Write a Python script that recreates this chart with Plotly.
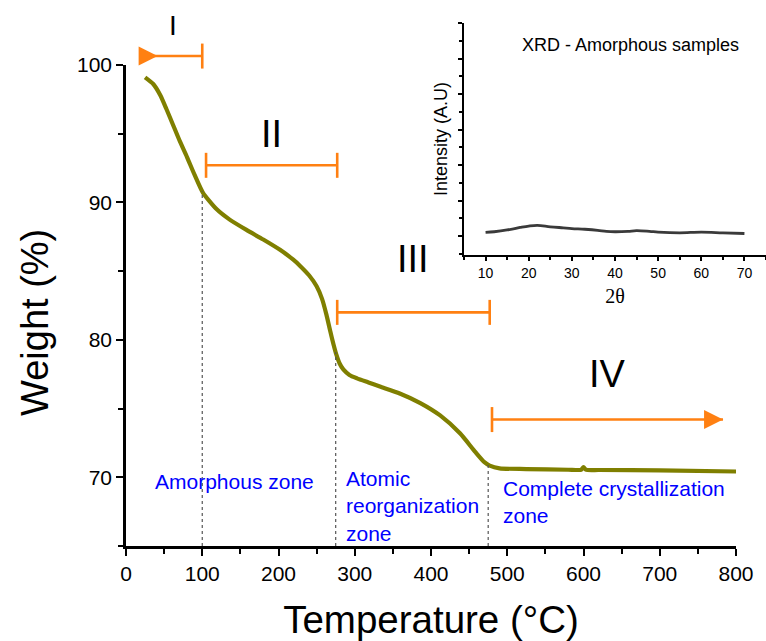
import numpy as np
import plotly.graph_objects as go

FIG_W, FIG_H = 766, 641
FONT = "Liberation Sans, Arial, sans-serif"

# ---------------- data ----------------
# TGA curve (Temperature in °C, Weight in %)
temperature = [25, 36, 45, 53, 62, 71, 80, 90, 101, 119, 136, 158, 180, 202, 219,
               228, 240, 250, 257, 263, 268, 272, 276, 280, 285, 293, 303, 318, 333,
               359, 386, 412, 438, 458, 470, 477, 490, 525, 580, 597, 600, 603, 620,
               700, 800]
weight = [99.1, 98.6, 97.8, 96.8, 95.6, 94.4, 93.3, 92.0, 90.7, 89.5, 88.75,
          88.0, 87.3, 86.55, 85.85, 85.4, 84.7, 83.9, 83.0, 81.8, 80.6, 79.7, 78.9,
          78.3, 77.85, 77.45, 77.2, 76.9, 76.6, 76.1, 75.4, 74.5, 73.2, 71.85, 71.1,
          70.85, 70.65, 70.6, 70.55, 70.55, 70.75, 70.55, 70.53, 70.5, 70.42]

# zone boundaries (dashed lines)
zone_bounds = [100, 275, 475]

# stage range bars
stage_names = ["I", "II", "III", "IV"]
stage_start = [27, 105, 277, 480]
stage_end = [100, 277, 477, 783]
stage_level = [100.65, 92.7, 82.0, 74.2]
stage_left_cap = [False, True, True, True]
stage_right_cap = [True, True, True, False]
stage_label_x = [61, 191, 377, 632]
stage_label_y = [102.9, 95.0, 85.9, 77.5]
stage_label_size = [28, 38, 38, 38]
stage_I_arrow_tip = 41.5  # triangle on stage I start

# zone descriptions
zone_texts = ["Amorphous zone", "Atomic<br>reorganization<br>zone",
              "Complete crystallization<br>zone"]
zone_text_x = [35, 286, 492]
zone_text_y = [69.67, 67.93, 68.18]

# inset XRD pattern
xrd_2theta = [10, 12, 15, 18, 20, 22, 25, 28, 30, 33, 36, 38, 40, 43, 45, 48, 50,
              55, 60, 65, 70]
xrd_intensity = [0.10, 0.12, 0.17, 0.24, 0.28, 0.30, 0.26, 0.23, 0.21, 0.19, 0.16,
                 0.13, 0.12, 0.13, 0.15, 0.13, 0.11, 0.09, 0.11, 0.09, 0.07]

# ---------------- layout geometry (pixels) ----------------
MAIN_L, MAIN_R, MAIN_T, MAIN_B = 126, 736, 65, 546
INS_L, INS_R, INS_T, INS_B = 464, 766, 23, 255
Y_MIN, Y_MAX = 65, 100


def xdom(a, b):
    return [a / FIG_W, b / FIG_W]


def ydom(top, bottom):
    return [(FIG_H - bottom) / FIG_H, (FIG_H - top) / FIG_H]


main_ydom = ydom(MAIN_T, MAIN_B)
px_per_unit = (MAIN_B - MAIN_T) / (Y_MAX - Y_MIN)
y3_top = Y_MIN + MAIN_B / px_per_unit
cap_half = 12.5 / px_per_unit

ORANGE = "#ff8012"
OLIVE = "#7f7f00"

fig = go.Figure()

# main TGA curve
fig.add_trace(go.Scatter(x=temperature, y=weight, mode="lines",
                         line=dict(color=OLIVE, width=4.2, shape="spline", smoothing=0.6),
                         xaxis="x", yaxis="y", showlegend=False, hoverinfo="skip"))

# dashed zone boundaries
dx, dy = [], []
for b in zone_bounds:
    dx += [b, b, None]
    dy += [Y_MIN, float(np.interp(b, temperature, weight)), None]
fig.add_trace(go.Scatter(x=dx, y=dy, mode="lines",
                         line=dict(color="#555555", width=1.2, dash="3px,3px"),
                         xaxis="x", yaxis="y", showlegend=False, hoverinfo="skip"))

# stage bars (on taller overlay axis so they can sit above the plot top)
bx, by = [], []
for s, e, lv, lc, rc in zip(stage_start, stage_end, stage_level,
                            stage_left_cap, stage_right_cap):
    bx += [s, e, None]
    by += [lv, lv, None]
    if lc:
        bx += [s, s, None]
        by += [lv - cap_half, lv + cap_half, None]
    if rc:
        bx += [e, e, None]
        by += [lv - cap_half, lv + cap_half, None]
fig.add_trace(go.Scatter(x=bx, y=by, mode="lines",
                         line=dict(color=ORANGE, width=2.6),
                         xaxis="x", yaxis="y3", showlegend=False, hoverinfo="skip"))
fig.add_trace(go.Scatter(x=[stage_I_arrow_tip, stage_end[3]],
                         y=[stage_level[0], stage_level[3]], mode="markers",
                         marker=dict(symbol="arrow-right", size=19, color=ORANGE,
                                     line=dict(width=0)),
                         xaxis="x", yaxis="y3", showlegend=False, hoverinfo="skip",
                         cliponaxis=False))

# inset XRD
fig.add_trace(go.Scatter(x=xrd_2theta, y=xrd_intensity, mode="lines",
                         line=dict(color="#3a3a3a", width=2.8, shape="spline"),
                         xaxis="x2", yaxis="y2", showlegend=False, hoverinfo="skip"))

annotations = []
for name, lx, ly, fs in zip(stage_names, stage_label_x, stage_label_y, stage_label_size):
    annotations.append(dict(text=name, x=lx, y=ly, xref="x", yref="y3", showarrow=False,
                            font=dict(family=FONT, size=fs, color="black")))
for t, tx, ty in zip(zone_texts, zone_text_x, zone_text_y):
    annotations.append(dict(text=t, x=tx, y=ty, xref="x", yref="y", showarrow=False,
                            xanchor="left", yanchor="middle", align="left",
                            font=dict(family=FONT, size=21, color="#0000ff")))
annotations.append(dict(text="XRD - Amorphous samples", x=43.7, y=5.37, xref="x2",
                        yref="y2", showarrow=False,
                        font=dict(family=FONT, size=18, color="black")))
# main y-axis title (placed slightly below the axis centre, as in the original)
annotations.append(dict(text="Weight (%)", x=35 / FIG_W, y=(FIG_H - 323) / FIG_H,
                        xref="paper", yref="paper", showarrow=False, textangle=-90,
                        xanchor="center", yanchor="middle",
                        font=dict(family=FONT, size=38, color="black")))

axis_common = dict(showline=True, linecolor="black", showgrid=False, zeroline=False,
                   ticks="outside", tickcolor="black", mirror=False, automargin=False)

fig.update_layout(
    template="none",
    width=FIG_W, height=FIG_H,
    margin=dict(l=0, r=0, t=0, b=0, autoexpand=False),
    paper_bgcolor="white", plot_bgcolor="rgba(0,0,0,0)",
    font=dict(family=FONT, color="black"),
    showlegend=False,
    annotations=annotations,
    xaxis=dict(axis_common, domain=xdom(MAIN_L, MAIN_R), range=[0, 800], anchor="y",
               linewidth=2.5, tickwidth=2, ticklen=7, tick0=0, dtick=100,
               minor=dict(ticks="outside", dtick=50, ticklen=5, tickwidth=2,
                          tickcolor="black"),
               tickfont=dict(family=FONT, size=21, color="black"),
               title=dict(text="Temperature (°C)", standoff=24,
                          font=dict(family=FONT, size=38.5, color="black"))),
    yaxis=dict(axis_common, domain=main_ydom, range=[Y_MIN, Y_MAX], anchor="x",
               linewidth=2.5, tickwidth=2, ticklen=7, tick0=0, dtick=10,
               minor=dict(ticks="outside", dtick=5, ticklen=5, tickwidth=2,
                          tickcolor="black"),
               tickfont=dict(family=FONT, size=21, color="black")),
    yaxis3=dict(domain=[main_ydom[0], 1.0], range=[Y_MIN, y3_top], anchor="x",
                visible=False, showgrid=False, zeroline=False),
    xaxis2=dict(axis_common, domain=xdom(INS_L, INS_R), range=[5, 75], anchor="y2",
                linewidth=1.6, tickwidth=1.5, ticklen=4, tick0=0, dtick=10,
                minor=dict(ticks="outside", dtick=5, ticklen=3, tickwidth=1.5,
                           tickcolor="black"),
                tickfont=dict(family=FONT, size=14, color="black"),
                title=dict(text="2θ", standoff=9,
                           font=dict(family="Liberation Serif, serif", size=20,
                                     color="black"))),
    yaxis2=dict(axis_common, domain=ydom(INS_T, INS_B), range=[-0.535, 6], anchor="x2",
                linewidth=1.6, tickwidth=1.5, ticklen=4, tick0=0, dtick=1,
                showticklabels=False,
                minor=dict(ticks="outside", dtick=0.5, ticklen=3, tickwidth=1.5,
                           tickcolor="black"),
                title=dict(text="Intensity (A.U)", standoff=6,
                           font=dict(family=FONT, size=18, color="black"))),
)

fig.write_html("out.html")
